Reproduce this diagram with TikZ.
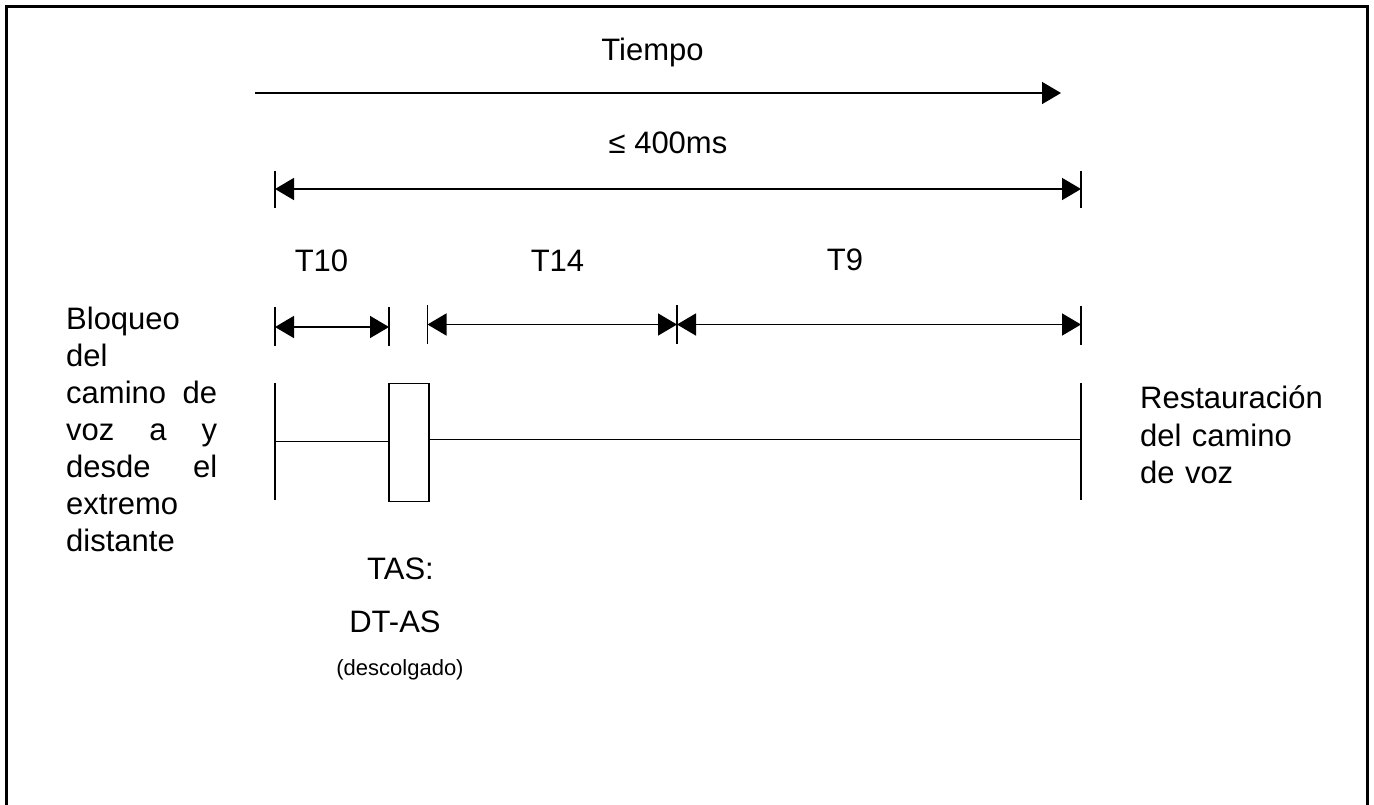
\documentclass[tikz,border=0pt]{standalone}
\usepackage{fontspec}
\setmainfont{Liberation Sans}
\usetikzlibrary{arrows.meta}
\begin{document}
\begin{tikzpicture}[x=1pt,y=-1pt,
  ln/.style={line width=1.6pt},
  frame/.style={line width=3pt},
  tip/.style={Triangle[length=19pt,width=22pt]},
  fwd/.style={ln,-{Triangle[length=19pt,width=22pt]}},
  dimarrow/.style={ln,{Triangle[length=19pt,width=22pt]}-{Triangle[length=19pt,width=22pt]}},
  lbl/.style={inner sep=0pt,anchor=base,font=\fontsize{31}{37}\selectfont},
  small/.style={inner sep=0pt,anchor=base,font=\fontsize{22}{26}\selectfont},
  para/.style={inner sep=0pt,anchor=base west,align=left,font=\fontsize{31}{37}\selectfont},
  boxnode/.style={draw,ln,minimum width=40pt,minimum height=118pt,inner sep=0pt}]
\useasboundingbox (0,0) rectangle (1374,804);
% frame
\draw[frame] (6.5,806) -- (6.5,6.5) -- (1367.5,6.5) -- (1367.5,806);
% time arrow
\node[lbl] (tiempo) at (652.5,60) {Tiempo};
\coordinate (ts) at (255,93);
\coordinate (te) at (1061,93);
\draw[fwd] (ts) -- (te);
% <= 400ms
\node[lbl] (max) at (668,153) {≤ 400ms};
\coordinate (m0t) at (275,171); \coordinate (m0b) at (275,208);
\coordinate (m1t) at (1081,171); \coordinate (m1b) at (1081,208);
\draw[ln] (m0t) -- (m0b);
\draw[ln] (m1t) -- (m1b);
\coordinate (m0) at (275,189); \coordinate (m1) at (1081,189);
\draw[dimarrow] (m0) -- (m1);
% labels T10 T14 T9
\node[lbl] (t10) at (321.5,271.5) {T10};
\node[lbl] (t14) at (557.5,271.5) {T14};
\node[lbl] (t9) at (845,270) {T9};
% T10 dimension
\coordinate (a0t) at (275,307); \coordinate (a0b) at (275,346);
\coordinate (a1t) at (389,307); \coordinate (a1b) at (389,346);
\draw[ln] (a0t) -- (a0b);
\draw[ln] (a1t) -- (a1b);
\coordinate (a0) at (275,327); \coordinate (a1) at (389,327);
\draw[dimarrow] (a0) -- (a1);
% T14 / T9 dimension
\coordinate (b0t) at (427.5,305); \coordinate (b0b) at (427.5,344);
\coordinate (b1t) at (677,305); \coordinate (b1b) at (677,344);
\coordinate (b2t) at (1081,306); \coordinate (b2b) at (1081,345);
\draw[ln] (b0t) -- (b0b);
\draw[ln] (b1t) -- (b1b);
\draw[ln] (b2t) -- (b2b);
\coordinate (b0) at (427.5,324.5); \coordinate (b1) at (677,324.5); \coordinate (b2) at (1081,324.5);
\draw[dimarrow] (b0) -- (b1);
\draw[dimarrow] (b1) -- (b2);
% timeline
\coordinate (l0t) at (275,383); \coordinate (l0b) at (275,500);
\coordinate (l1t) at (1081,383); \coordinate (l1b) at (1081,500);
\draw[ln] (l0t) -- (l0b);
\draw[ln] (l1t) -- (l1b);
\node[boxnode] (tas) at (409,442.5) {};
\coordinate (l0m) at (275,441.5);
\coordinate (l1m) at (1081,439.5);
\draw[ln] (l0m) -- (l0m -| tas.west);
\draw[ln] (l1m -| tas.east) -- (l1m);
% left text
\node[para,text width=151pt] (left) at (66,329) {Bloqueo\\del\\camino\hfill de\\voz\hfill a\hfill y\\desde\hfill el\\extremo\\distante};
% right text
\node[para,text width=220pt] (right) at (1140,408) {Restauración\\[1pt]del camino\\de voz};
% TAS labels
\node[lbl] (tas1) at (400.5,579) {TAS:};
\node[lbl] (tas2) at (395,632) {DT-AS};
\node[small] (tas3) at (400,675) {(descolgado)};
\end{tikzpicture}
\end{document}
